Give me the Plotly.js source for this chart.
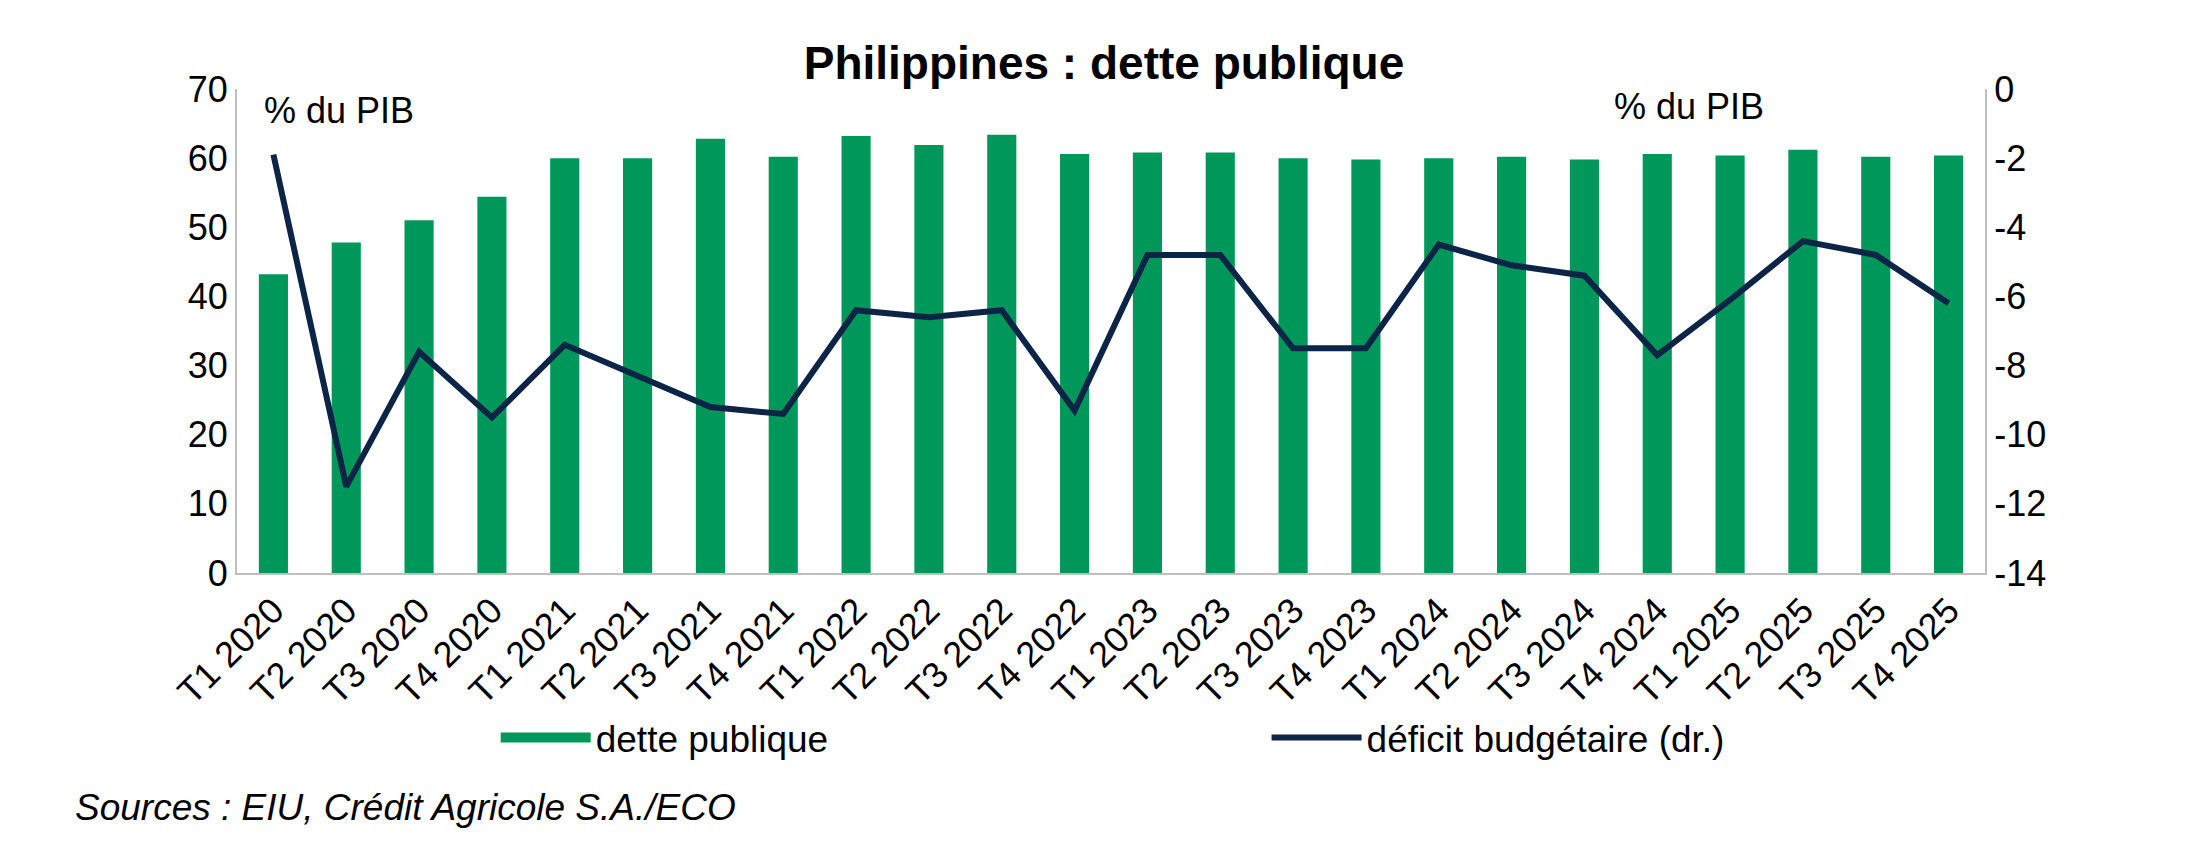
<!DOCTYPE html>
<html>
<head>
<meta charset="utf-8">
<script src="https://cdn.plot.ly/plotly-3.0.1.min.js"></script>
<style>
  html, body { margin: 0; padding: 0; background: #fff; }
  #plot { width: 2208px; height: 845px; }
</style>
</head>
<body>
<div id="plot"></div>
<script>
// quarters on the x axis
var quarters = ["T1 2020", "T2 2020", "T3 2020", "T4 2020",
  "T1 2021", "T2 2021", "T3 2021", "T4 2021",
  "T1 2022", "T2 2022", "T3 2022", "T4 2022",
  "T1 2023", "T2 2023", "T3 2023", "T4 2023",
  "T1 2024", "T2 2024", "T3 2024", "T4 2024",
  "T1 2025", "T2 2025", "T3 2025", "T4 2025"];

// dette publique, % du PIB (left axis)
var dette = [43.2, 47.8, 51.0, 54.4, 60.0, 60.0, 62.8, 60.2,
  63.2, 61.9, 63.4, 60.6, 60.8, 60.8, 60.0, 59.8,
  60.0, 60.2, 59.8, 60.6, 60.4, 61.2, 60.2, 60.4];

// deficit budgetaire, % du PIB (right axis)
var deficit = [-1.9, -11.5, -7.6, -9.5, -7.4, -8.3, -9.2, -9.4,
  -6.4, -6.6, -6.4, -9.3, -4.8, -4.8, -7.5, -7.5,
  -4.5, -5.1, -5.4, -7.7, -6.1, -4.4, -4.8, -6.2];

// right axis ticks (plain hyphen like the original)
var rightTicks = [0, -2, -4, -6, -8, -10, -12, -14];
var rightTickText = ["0", "-2", "-4", "-6", "-8", "-10", "-12", "-14"];

var green = "#00985A";
var navy = "#0C2546";
var axisGrey = "#BFBFBF";
var fontFam = "Liberation Sans, Arial, sans-serif";

var detteTrace = {
  x: quarters,
  y: dette,
  type: "bar",
  name: "dette publique",
  marker: { color: green },
  showlegend: false,
  hoverinfo: "x+y"
};

// legend entry only: wide green block like the excel legend key
var detteKey = {
  x: [null],
  y: [null],
  type: "scatter",
  mode: "lines",
  name: "dette publique",
  line: { color: green, width: 17 },
  legend: "legend",
  hoverinfo: "skip"
};

var deficitTrace = {
  x: quarters,
  y: deficit,
  type: "scatter",
  mode: "lines",
  name: "déficit budgétaire (dr.)",
  yaxis: "y2",
  line: { color: navy, width: 6 },
  legend: "legend2",
  hoverinfo: "x+y"
};

var data = [detteTrace, detteKey, deficitTrace];

var layout = {
  width: 2208,
  height: 845,
  margin: { l: 237, r: 223, t: 89, b: 272 },
  paper_bgcolor: "#fff",
  plot_bgcolor: "#fff",
  font: { family: fontFam, size: 36, color: "#000" },
  title: {
    text: "<b>Philippines : dette publique</b>",
    font: { family: fontFam, size: 46, color: "#000" },
    x: 0.5, xanchor: "center",
    y: 0.925, yanchor: "middle"
  },
  bargap: 0.6,
  xaxis: {
    type: "category",
    tickangle: -45,
    showline: true,
    linecolor: axisGrey,
    linewidth: 2,
    ticks: "",
    showgrid: false,
    tickfont: { size: 36 }
  },
  yaxis: {
    range: [0, 70],
    dtick: 10,
    showline: true,
    linecolor: axisGrey,
    linewidth: 2,
    ticks: "",
    showgrid: false,
    zeroline: false,
    tickfont: { size: 36 }
  },
  yaxis2: {
    overlaying: "y",
    side: "right",
    range: [-14, 0],
    tickmode: "array",
    tickvals: rightTicks,
    ticktext: rightTickText,
    showline: true,
    linecolor: axisGrey,
    linewidth: 2,
    ticks: "",
    showgrid: false,
    zeroline: false,
    tickfont: { size: 36 }
  },
  showlegend: true,
  legend: {
    x: 0.148, xanchor: "left",
    y: -0.341, yanchor: "middle",
    orientation: "h",
    itemwidth: 90,
    font: { size: 37 },
    bgcolor: "rgba(0,0,0,0)"
  },
  legend2: {
    x: 0.589, xanchor: "left",
    y: -0.341, yanchor: "middle",
    orientation: "h",
    itemwidth: 90,
    font: { size: 37 },
    bgcolor: "rgba(0,0,0,0)"
  },
  annotations: [
    {
      text: "% du PIB",
      xref: "paper", yref: "paper",
      x: (262 - 237) / 1748, y: (573 - 110) / 484,
      xanchor: "left", yanchor: "middle",
      showarrow: false,
      font: { size: 36 }
    },
    {
      text: "% du PIB",
      xref: "paper", yref: "paper",
      x: (1612 - 237) / 1748, y: (573 - 106) / 484,
      xanchor: "left", yanchor: "middle",
      showarrow: false,
      font: { size: 36 }
    },
    {
      text: "<i>Sources : EIU, Crédit Agricole S.A./ECO</i>",
      xref: "paper", yref: "paper",
      x: (73 - 237) / 1748, y: (573 - 807) / 484,
      xanchor: "left", yanchor: "middle",
      showarrow: false,
      font: { size: 37 }
    }
  ]
};

Plotly.newPlot("plot", data, layout, { displayModeBar: false, responsive: false });
</script>
</body>
</html>
